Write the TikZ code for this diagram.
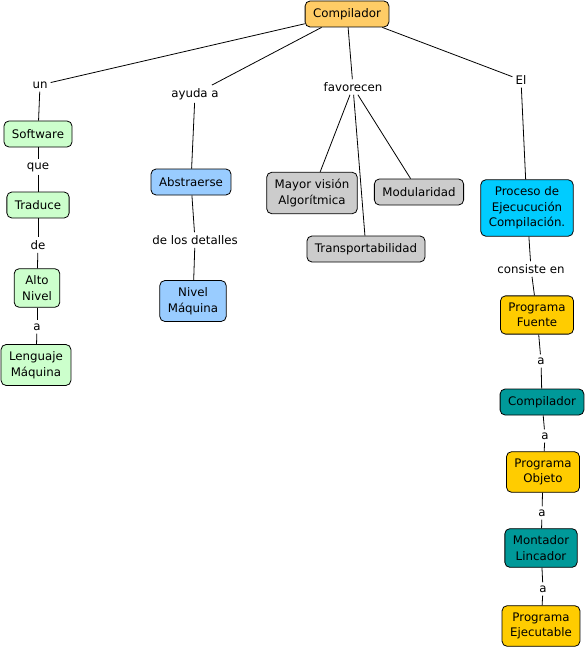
\documentclass[tikz,border=0pt]{standalone}
\usepackage{fontspec}
\setmainfont{DejaVu Sans}
\usetikzlibrary{calc}

\definecolor{rootorange}{HTML}{FFCC66}
\definecolor{softgreen}{HTML}{CCFFCC}
\definecolor{softblue}{HTML}{99CCFF}
\definecolor{softgray}{HTML}{CCCCCC}
\definecolor{brightcyan}{HTML}{00CCFF}
\definecolor{goldbox}{HTML}{FFCC00}
\definecolor{tealbox}{HTML}{009999}

\begin{document}
\begin{tikzpicture}[x=1pt,y=-1pt,
  concept/.style={draw=black,line width=0.8pt,rounded corners=5pt,
    align=center,inner xsep=8pt,inner ysep=7pt,minimum height=26pt,
    font=\fontsize{11.8}{15.5}\selectfont},
  linkword/.style={fill=white,inner sep=3pt,font=\fontsize{11.8}{15.5}\selectfont},
  link/.style={line width=0.8pt}]

\useasboundingbox (0,0) rectangle (587,650);

% root
\node[concept,fill=rootorange] (root) at (347,14) {Compilador};

% left branch
\node[linkword] (un) at (40,85) {un};
\node[concept,fill=softgreen] (software) at (38,134) {Software};
\node[linkword] (que) at (38,167) {que};
\node[concept,fill=softgreen] (traduce) at (38,205) {Traduce};
\node[linkword] (de) at (38,245) {de};
\node[concept,fill=softgreen] (alto) at (37,288) {Alto\\Nivel};
\node[linkword] (aleft) at (37,327) {a};
\node[concept,fill=softgreen] (lenguaje) at (36,365) {Lenguaje\\Máquina};

% second branch
\node[linkword] (ayuda) at (195,94) {ayuda a};
\node[concept,fill=softblue] (abstraerse) at (191,182) {Abstraerse};
\node[linkword] (detalles) at (195,240) {de los detalles};
\node[concept,fill=softblue] (nivel) at (193,301) {Nivel\\Máquina};

% third branch
\node[linkword] (favorecen) at (353,87) {favorecen};
\node[concept,fill=softgray] (mayor) at (312,193) {Mayor visión\\Algorítmica};
\node[concept,fill=softgray] (modular) at (419,192) {Modularidad};
\node[concept,fill=softgray] (transp) at (366,249) {Transportabilidad};

% right branch
\node[linkword] (el) at (521,80) {El};
\node[concept,fill=brightcyan] (proceso) at (527,208) {Proceso de\\Ejecucución\\Compilación.};
\node[linkword] (consiste) at (531,269) {consiste en};
\node[concept,fill=goldbox] (fuente) at (537,315) {Programa\\Fuente};
\node[linkword] (a1) at (541,361) {a};
\node[concept,fill=tealbox] (compilador) at (542,402) {Compilador};
\node[linkword] (a2) at (545,436) {a};
\node[concept,fill=goldbox] (objeto) at (543,472) {Programa\\Objeto};
\node[linkword] (a3) at (542,513) {a};
\node[concept,fill=tealbox] (montador) at (541,548) {Montador\\Lincador};
\node[linkword] (a4) at (543,589) {a};
\node[concept,fill=goldbox] (ejecutable) at (541,626) {Programa\\Ejecutable};

% connectors
\draw[link] (root) -- (un);
\draw[link] (un) -- (software);
\draw[link] (software) -- (que);
\draw[link] (que) -- (traduce);
\draw[link] (traduce) -- (de);
\draw[link] (de) -- (alto);
\draw[link] (alto) -- (aleft);
\draw[link] (aleft) -- (lenguaje);

\draw[link] (root) -- (ayuda);
\draw[link] (ayuda) -- (abstraerse);
\draw[link] (abstraerse) -- (detalles);
\draw[link] (detalles) -- (nivel);

\draw[link] (root) -- (favorecen);
\draw[link] (favorecen) -- (mayor);
\draw[link] (favorecen) -- (modular);
\draw[link] (favorecen) -- (transp);

\draw[link] (root) -- (el);
\draw[link] (el) -- (proceso);
\draw[link] (proceso) -- (consiste);
\draw[link] (consiste) -- (fuente);
\draw[link] (fuente) -- (a1);
\draw[link] (a1) -- (compilador);
\draw[link] (compilador) -- (a2);
\draw[link] (a2) -- (objeto);
\draw[link] (objeto) -- (a3);
\draw[link] (a3) -- (montador);
\draw[link] (montador) -- (a4);
\draw[link] (a4) -- (ejecutable);
\end{tikzpicture}
\end{document}
